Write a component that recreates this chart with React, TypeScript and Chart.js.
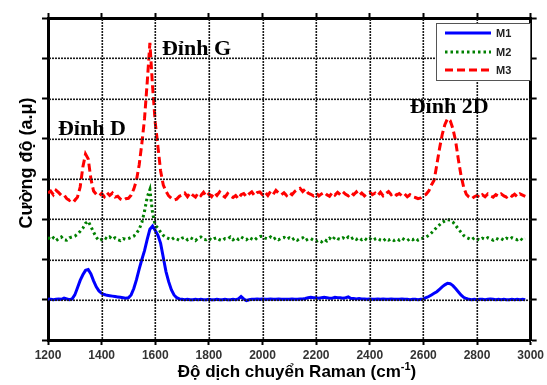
import { useEffect, useRef } from "react";
import { Chart, registerables } from "chart.js";

Chart.register(...registerables);

// Raman shift (cm-1)
const ramanShift = [
  1200, 1210, 1220, 1230, 1240, 1250, 1260, 1270, 1280, 1290,
  1300, 1310, 1320, 1330, 1340, 1350, 1360, 1370, 1380, 1390,
  1400, 1410, 1420, 1430, 1440, 1450, 1460, 1470, 1480, 1490,
  1500, 1510, 1520, 1530, 1540, 1550, 1560, 1570, 1580, 1590,
  1600, 1610, 1620, 1630, 1640, 1650, 1660, 1670, 1680, 1690,
  1700, 1710, 1720, 1730, 1740, 1750, 1760, 1770, 1780, 1790,
  1800, 1810, 1820, 1830, 1840, 1850, 1860, 1870, 1880, 1890,
  1900, 1910, 1920, 1930, 1940, 1950, 1960, 1970, 1980, 1990,
  2000, 2010, 2020, 2030, 2040, 2050, 2060, 2070, 2080, 2090,
  2100, 2110, 2120, 2130, 2140, 2150, 2160, 2170, 2180, 2190,
  2200, 2210, 2220, 2230, 2240, 2250, 2260, 2270, 2280, 2290,
  2300, 2310, 2320, 2330, 2340, 2350, 2360, 2370, 2380, 2390,
  2400, 2410, 2420, 2430, 2440, 2450, 2460, 2470, 2480, 2490,
  2500, 2510, 2520, 2530, 2540, 2550, 2560, 2570, 2580, 2590,
  2600, 2610, 2620, 2630, 2640, 2650, 2660, 2670, 2680, 2690,
  2700, 2710, 2720, 2730, 2740, 2750, 2760, 2770, 2780, 2790,
  2800, 2810, 2820, 2830, 2840, 2850, 2860, 2870, 2880, 2890,
  2900, 2910, 2920, 2930, 2940, 2950, 2960, 2970, 2980,
];

const m1 = [
  1.02, 1.01, 1.00, 1.01, 1.02, 1.01, 1.04, 1.02, 1.00, 1.02,
  1.12, 1.30, 1.48, 1.62, 1.73, 1.75, 1.64, 1.47, 1.32, 1.22,
  1.16, 1.13, 1.11, 1.10, 1.09, 1.08, 1.07, 1.06, 1.05, 1.04,
  1.05, 1.12, 1.28, 1.50, 1.76, 2.00, 2.22, 2.50, 2.75, 2.83,
  2.72, 2.60, 2.40, 2.05, 1.70, 1.45, 1.25, 1.12, 1.05, 1.02,
  1.01, 1.00, 1.01, 1.00, 1.00, 1.01, 1.00, 1.01, 1.00, 1.00,
  1.01, 1.00, 1.00, 1.01, 1.00, 1.00, 1.01, 1.00, 1.00, 1.01,
  1.00, 1.02, 1.08, 1.02, 0.98, 1.00, 1.01, 1.01, 1.02, 1.01,
  1.02, 1.01, 1.01, 1.02, 1.01, 1.01, 1.02, 1.01, 1.01, 1.01,
  1.01, 1.02, 1.01, 1.01, 1.02, 1.02, 1.03, 1.05, 1.06, 1.05,
  1.05, 1.04, 1.05, 1.06, 1.05, 1.04, 1.04, 1.06, 1.05, 1.05,
  1.04, 1.05, 1.07, 1.03, 1.03, 1.02, 1.03, 1.02, 1.02, 1.01,
  1.02, 1.01, 1.01, 1.02, 1.01, 1.02, 1.01, 1.01, 1.02, 1.01,
  1.01, 1.01, 1.02, 1.01, 1.01, 1.00, 1.01, 1.01, 1.00, 1.01,
  1.02, 1.05, 1.08, 1.12, 1.16, 1.20, 1.26, 1.32, 1.37, 1.41,
  1.40, 1.35, 1.28, 1.20, 1.12, 1.06, 1.03, 1.01, 1.00, 1.01,
  1.00, 1.01, 1.01, 1.00, 1.01, 1.02, 1.01, 1.00, 1.01, 1.00,
  1.01, 1.00, 1.00, 1.01, 1.00, 1.01, 1.00, 1.01, 1.00,
];

const m2 = [
  2.55, 2.49, 2.54, 2.47, 2.52, 2.56, 2.49, 2.48, 2.54, 2.56,
  2.58, 2.63, 2.70, 2.78, 2.90, 2.95, 2.82, 2.68, 2.55, 2.47,
  2.50, 2.55, 2.51, 2.56, 2.50, 2.54, 2.49, 2.47, 2.52, 2.50,
  2.52, 2.55, 2.58, 2.65, 2.75, 2.92, 3.20, 3.55, 3.74, 3.15,
  2.85, 2.78, 2.68, 2.60, 2.55, 2.52, 2.49, 2.54, 2.51, 2.48,
  2.53, 2.55, 2.49, 2.54, 2.51, 2.47, 2.53, 2.56, 2.50, 2.49,
  2.53, 2.48, 2.52, 2.54, 2.49, 2.47, 2.52, 2.51, 2.56, 2.49,
  2.54, 2.50, 2.56, 2.52, 2.49, 2.55, 2.51, 2.48, 2.54, 2.57,
  2.58, 2.53, 2.51, 2.56, 2.50, 2.54, 2.49, 2.53, 2.55, 2.50,
  2.54, 2.49, 2.53, 2.48, 2.52, 2.54, 2.47, 2.51, 2.52, 2.48,
  2.45, 2.48, 2.44, 2.50, 2.46, 2.53, 2.48, 2.56, 2.52, 2.50,
  2.54, 2.50, 2.56, 2.51, 2.55, 2.50, 2.54, 2.49, 2.53, 2.48,
  2.52, 2.47, 2.51, 2.53, 2.48, 2.46, 2.52, 2.48, 2.51, 2.47,
  2.51, 2.48, 2.53, 2.49, 2.47, 2.52, 2.49, 2.53, 2.48, 2.52,
  2.53, 2.56, 2.60, 2.66, 2.73, 2.80, 2.86, 2.92, 2.96, 2.99,
  2.98, 2.93, 2.85, 2.76, 2.68, 2.60, 2.55, 2.52, 2.49, 2.54,
  2.51, 2.48, 2.53, 2.50, 2.54, 2.51, 2.48, 2.53, 2.50, 2.52,
  2.48, 2.53, 2.50, 2.54, 2.51, 2.49, 2.53, 2.48, 2.51,
];

const m3 = [
  3.65, 3.70, 3.61, 3.72, 3.66, 3.59, 3.60, 3.51, 3.47, 3.52,
  3.47, 3.55, 3.80, 4.30, 4.62, 4.50, 4.00, 3.70, 3.62, 3.58,
  3.64, 3.56, 3.66, 3.59, 3.65, 3.55, 3.57, 3.50, 3.47, 3.51,
  3.52, 3.60, 3.75, 3.97, 4.35, 4.88, 5.50, 6.40, 7.38, 6.30,
  5.40, 4.80, 4.20, 3.85, 3.70, 3.58, 3.52, 3.48, 3.50, 3.57,
  3.60, 3.65, 3.56, 3.66, 3.60, 3.55, 3.65, 3.59, 3.67, 3.57,
  3.63, 3.56, 3.66, 3.59, 3.68, 3.60, 3.55, 3.64, 3.58, 3.54,
  3.59, 3.51, 3.61, 3.64, 3.56, 3.63, 3.68, 3.59, 3.66, 3.68,
  3.61, 3.67, 3.59, 3.69, 3.62, 3.72, 3.65, 3.61, 3.66, 3.59,
  3.66, 3.61, 3.69, 3.74, 3.77, 3.69, 3.75, 3.65, 3.62, 3.58,
  3.65, 3.58, 3.63, 3.67, 3.61, 3.57, 3.66, 3.60, 3.67, 3.61,
  3.68, 3.62, 3.58, 3.66, 3.61, 3.68, 3.59, 3.65, 3.58, 3.64,
  3.67, 3.61, 3.65, 3.59, 3.67, 3.58, 3.64, 3.69, 3.61, 3.66,
  3.60, 3.64, 3.58, 3.63, 3.56, 3.61, 3.56, 3.54, 3.51, 3.53,
  3.58, 3.62, 3.70, 3.85, 3.97, 4.35, 4.75, 5.10, 5.35, 5.50,
  5.45, 5.25, 4.95, 4.50, 4.10, 3.80, 3.62, 3.55, 3.51, 3.56,
  3.59, 3.54, 3.61, 3.56, 3.63, 3.58, 3.55, 3.61, 3.57, 3.63,
  3.58, 3.55, 3.61, 3.57, 3.62, 3.56, 3.63, 3.60, 3.57,
];

const seriesNames = ["M1", "M2", "M3"];
const seriesColors = ["#0000ff", "#008000", "#ff0000"];
const seriesDashes = [[], [2.5, 3], [8, 4]];

const xMin = 1200;
const xMax = 3000;
const xStep = 200;
const yMin = 0;
const yMax = 8;
const yStep = 1;

const xTitleMain = "Độ dịch chuyển Raman (cm";
const xTitleSup = "-1";
const xTitleEnd = ")";
const yTitle = "Cường độ (a.μ)";

const peakNotes = [
  { text: "Đỉnh D", x: 1237, y: 5.09 },
  { text: "Đỉnh G", x: 1625, y: 7.08 },
  { text: "Đỉnh 2D", x: 2549, y: 5.64 },
];

function drawDotGrid(chart: any) {
  const { ctx, chartArea } = chart;
  const { left, right, top, bottom } = chartArea;
  const xs = chart.scales.x;
  const ys = chart.scales.y;
  ctx.save();
  ctx.fillStyle = "#1a1a1a";
  for (let v = xMin + xStep; v < xMax; v += xStep) {
    const px = Math.round(xs.getPixelForValue(v));
    for (let yy = Math.ceil(top) + 1; yy < bottom - 1; yy += 3) {
      ctx.fillRect(px - 0.5, yy, 1.6, 2);
    }
  }
  for (let v = yMin + yStep; v < yMax; v += yStep) {
    const py = Math.round(ys.getPixelForValue(v));
    for (let xx = Math.ceil(left) + 1; xx < right - 1; xx += 3) {
      ctx.fillRect(xx, py - 0.5, 2, 1.6);
    }
  }
  ctx.restore();
}

const overlay = {
  id: "overlay",
  afterDraw(chart: any) {
    drawDotGrid(chart);
    const { ctx } = chart;
    const xs = chart.scales.x;
    const ys = chart.scales.y;
    ctx.save();
    // peak annotations
    ctx.fillStyle = "#000";
    ctx.font = 'bold 22px "Liberation Serif", "Times New Roman", serif';
    ctx.textAlign = "left";
    ctx.textBaseline = "alphabetic";
    peakNotes.forEach((n) => {
      ctx.fillText(n.text, xs.getPixelForValue(n.x), ys.getPixelForValue(n.y));
    });

    // x title
    const mainFont = 'bold 17px "Liberation Sans", Arial, sans-serif';
    const supFont = 'bold 11px "Liberation Sans", Arial, sans-serif';
    ctx.font = mainFont;
    const w1 = ctx.measureText(xTitleMain).width;
    const w3 = ctx.measureText(xTitleEnd).width;
    ctx.font = supFont;
    const w2 = ctx.measureText(xTitleSup).width;
    const total = w1 + w2 + w3;
    let sx = 297 - total / 2;
    const by = 377;
    ctx.font = mainFont;
    ctx.fillText(xTitleMain, sx, by);
    sx += w1;
    ctx.font = supFont;
    ctx.fillText(xTitleSup, sx, by - 7);
    sx += w2;
    ctx.font = mainFont;
    ctx.fillText(xTitleEnd, sx, by);

    // y title
    ctx.save();
    ctx.translate(32, 163);
    ctx.rotate(-Math.PI / 2);
    ctx.font = 'bold 18px "Liberation Sans", Arial, sans-serif';
    ctx.textAlign = "center";
    ctx.fillText(yTitle, 0, 0);
    ctx.restore();

    // legend
    const lx = 436.5, ly = 23.5, lw = 94, lh = 57;
    ctx.fillStyle = "#fff";
    ctx.fillRect(lx, ly, lw, lh);
    ctx.strokeStyle = "#555";
    ctx.lineWidth = 1;
    ctx.strokeRect(lx, ly, lw, lh);
    const rows = [33, 52, 70];
    seriesNames.forEach((name, i) => {
      ctx.save();
      ctx.strokeStyle = seriesColors[i];
      ctx.lineWidth = 3;
      ctx.setLineDash(seriesDashes[i]);
      ctx.beginPath();
      ctx.moveTo(445, rows[i]);
      ctx.lineTo(491, rows[i]);
      ctx.stroke();
      ctx.restore();
      ctx.fillStyle = "#222";
      ctx.font = 'bold 11px "Liberation Sans", Arial, sans-serif';
      ctx.textAlign = "left";
      ctx.textBaseline = "middle";
      ctx.fillText(name, 496, rows[i] + 0.5);
    });
    ctx.restore();
  },
};

export default function App() {
  const ref = useRef<HTMLCanvasElement | null>(null);
  useEffect(() => {
    if (!ref.current) return;
    const series = [m1, m2, m3];
    const chart = new Chart(ref.current, {
      type: "line",
      data: {
        datasets: series.map((vals, i) => ({
          label: seriesNames[i],
          data: ramanShift.map((s, k) => ({ x: s, y: vals[k] })),
          borderColor: seriesColors[i],
          backgroundColor: seriesColors[i],
          borderWidth: 3,
          borderDash: seriesDashes[i],
          pointRadius: 0,
          tension: 0,
          fill: false,
        })),
      },
      options: {
        animation: false,
        responsive: true,
        maintainAspectRatio: false,
        layout: { padding: 0 },
        plugins: { legend: { display: false }, tooltip: { enabled: false } },
        scales: {
          x: {
            type: "linear",
            position: "bottom",
            min: xMin,
            max: xMax,
            ticks: {
              stepSize: xStep,
              color: "#333",
              padding: 3,
              maxRotation: 0,
              font: { family: '"Liberation Sans", Arial', size: 12, weight: "bold" },
              callback: (v: any) => String(v),
            },
            grid: { drawOnChartArea: false, tickLength: 5, tickColor: "#000", tickWidth: 2 },
            border: { color: "#000", width: 3 },
            afterFit: (s: any) => { s.height = 45; },
          },
          xTop: {
            type: "linear",
            position: "top",
            min: xMin,
            max: xMax,
            ticks: { stepSize: xStep, display: false },
            grid: { drawOnChartArea: false, tickLength: 5, tickColor: "#000", tickWidth: 2 },
            border: { color: "#000", width: 3 },
            afterFit: (s: any) => { s.height = 18; },
          },
          y: {
            type: "linear",
            position: "left",
            min: yMin,
            max: yMax,
            ticks: { stepSize: yStep, display: false },
            grid: { drawOnChartArea: false, tickLength: 6, tickColor: "#000", tickWidth: 2 },
            border: { color: "#000", width: 3 },
            afterFit: (s: any) => { s.width = 48; },
          },
          yRight: {
            type: "linear",
            position: "right",
            min: yMin,
            max: yMax,
            ticks: { stepSize: yStep, display: false },
            grid: { drawOnChartArea: false, tickLength: 6, tickColor: "#000", tickWidth: 2 },
            border: { color: "#000", width: 3 },
            afterFit: (s: any) => { s.width = 12; },
          },
        },
      },
      plugins: [overlay],
    });
    return () => chart.destroy();
  }, []);
  return (
    <div style={{ position: "fixed", left: 0, top: 0, width: 547, height: 385, background: "#fff" }}>
      <canvas ref={ref} />
    </div>
  );
}
